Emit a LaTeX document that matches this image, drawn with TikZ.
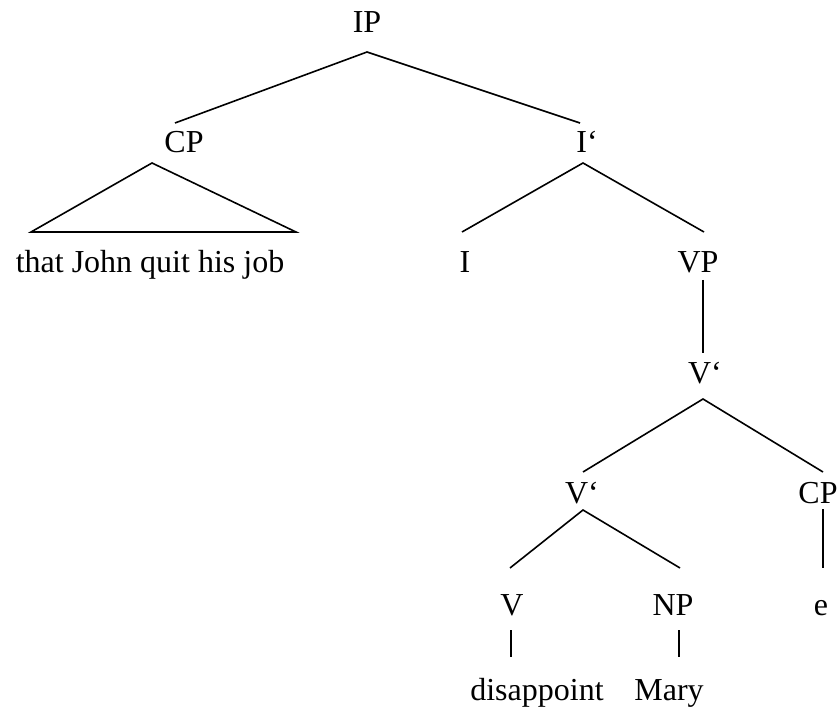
\documentclass[tikz,border=0pt]{standalone}
\usepackage{fontspec}
\setmainfont{Liberation Serif}
\usetikzlibrary{calc}
\begin{document}
\begin{tikzpicture}[x=1pt,y=-1pt,
  lbl/.style={inner sep=0pt,anchor=base,font=\fontsize{32}{38}\selectfont},
  edge/.style={line width=1.6pt,line cap=butt}]
\useasboundingbox (0,0) rectangle (838,711);
% nodes
\node[lbl] (ip)   at (367,33)  {IP};
\node[lbl] (cpa)  at (184,153) {CP};
\node[lbl] (ibar) at (587,153) {I‘};
\node[lbl] (sent) at (150,273) {that John quit his job};
\node[lbl] (i)    at (465,273) {I};
\node[lbl] (vp)   at (698,273) {VP};
\node[lbl] (vba)  at (705,383) {V‘};
\node[lbl] (vbb)  at (582,503) {V‘};
\node[lbl] (cpb)  at (818,503) {CP};
\node[lbl] (v)    at (512,615) {V};
\node[lbl] (np)   at (673,615) {NP};
\node[lbl] (e)    at (821,615) {e};
\node[lbl] (dis)  at (537,700) {disappoint};
\node[lbl] (mary) at (669,700) {Mary};
% connectors
\draw[edge] ($(cpa.base)+(-9,-30)$) -- ($(ip.base)+(0,19)$) -- ($(ibar.base)+(-7,-30)$);
\draw[edge] ($(cpa.base)+(-32,10)$) -- ($(sent.base)+(-119,-41)$) -- ($(sent.base)+(146,-41)$) -- cycle;
\draw[edge] ($(i.base)+(-3,-41)$) -- ($(ibar.base)+(-4,10)$) -- ($(vp.base)+(6,-41)$);
\draw[edge] ($(vp.base)+(5,7)$) -- ($(vba.base)+(-2,-30)$);
\draw[edge] ($(vbb.base)+(1,-31)$) -- ($(vba.base)+(-2,16)$) -- ($(cpb.base)+(5,-31)$);
\draw[edge] ($(v.base)+(-2,-47)$) -- ($(vbb.base)+(1,7)$) -- ($(np.base)+(7,-47)$);
\draw[edge] ($(cpb.base)+(5,6)$) -- ($(e.base)+(2,-47)$);
\draw[edge] ($(v.base)+(-1,15)$) -- ($(dis.base)+(-26,-43)$);
\draw[edge] ($(np.base)+(6,15)$) -- ($(mary.base)+(10,-43)$);
\end{tikzpicture}
\end{document}
